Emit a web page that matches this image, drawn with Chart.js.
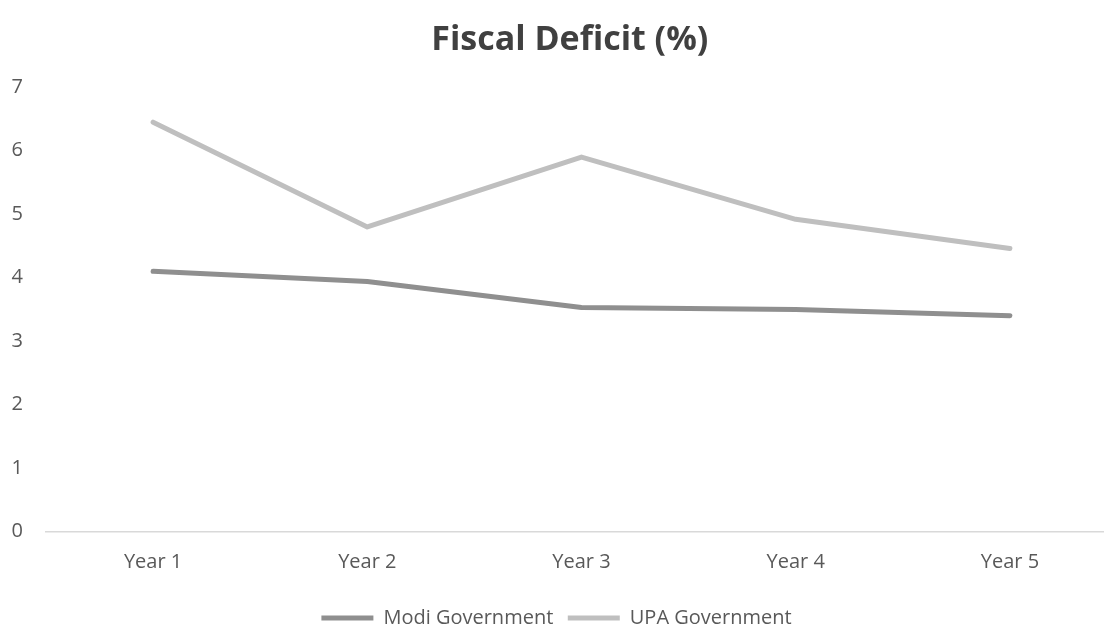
<!DOCTYPE html>
<html>
<head>
<meta charset="utf-8">
<script src="https://cdn.jsdelivr.net/npm/chart.js@4"></script>
<style>
  html, body { margin: 0; padding: 0; background: #fff; overflow: hidden; }
  #wrap { width: 1104px; height: 625px; overflow: hidden; }
  #FISCAL { display: block; }
</style>
</head>
<body>
<div id="wrap"><canvas id="FISCAL" width="1150" height="638"></canvas></div>
<script>
var years = ['Year 1', 'Year 2', 'Year 3', 'Year 4', 'Year 5'];
var modiValues = [4.1, 3.94, 3.53, 3.5, 3.4];
var upaValues = [6.45, 4.8, 5.9, 4.92, 4.46];
var yTicks = [0, 1, 2, 3, 4, 5, 6, 7];

var ctxFiscal = document.getElementById('FISCAL').getContext('2d');

var fiscalChart = new Chart(ctxFiscal, {
    type: 'line',
    data: {
        labels: years,
        datasets: [{
            label: 'Modi Government',
            data: modiValues,
            borderColor: '#8f8f8f',
            backgroundColor: '#8f8f8f',
            borderWidth: 5,
            borderCapStyle: 'round',
            borderJoinStyle: 'round'
        }, {
            label: 'UPA Government',
            data: upaValues,
            borderColor: '#bfbfbf',
            backgroundColor: '#bfbfbf',
            borderWidth: 5,
            borderCapStyle: 'round',
            borderJoinStyle: 'round'
        }]
    },
    options: {
        responsive: false,
        animation: false,
        layout: {
            // legend sits a bit left of the title in the original
            padding: { left: -4, right: 33, top: 0, bottom: 0 }
        },
        elements: {
            line: { tension: 0 },
            point: { radius: 0, hoverRadius: 0 }
        },
        plugins: {
            title: {
                display: true,
                text: '   Fiscal Deficit (%)',
                color: '#404040',
                font: { family: 'Open Sans', size: 34, weight: 'bold' },
                padding: { top: 20, bottom: 26.5 }
            },
            legend: {
                position: 'bottom',
                labels: {
                    color: '#595959',
                    font: { family: 'Open Sans', size: 20 },
                    usePointStyle: true,
                    pointStyle: 'line',
                    pointStyleWidth: 52,
                    padding: 14.5
                }
            },
            tooltip: { enabled: false }
        },
        scales: {
            x: {
                offset: true,
                grid: { display: false, drawTicks: false },
                border: { display: true, color: '#d9d9d9', width: 1.5 },
                ticks: {
                    color: '#595959',
                    font: { family: 'Open Sans', size: 20 },
                    padding: 19,
                    maxRotation: 0
                }
            },
            y: {
                min: yTicks[0],
                max: yTicks[yTicks.length - 1],
                afterBuildTicks: function (scale) {
                    scale.ticks = yTicks.map(function (v) { return { value: v }; });
                },
                afterFit: function (scale) { scale.width = 50; },
                grid: { display: false, drawTicks: false },
                border: { display: false },
                ticks: {
                    color: '#595959',
                    font: { family: 'Open Sans', size: 20 },
                    padding: 23
                }
            }
        }
    }
});
</script>
</body>
</html>
